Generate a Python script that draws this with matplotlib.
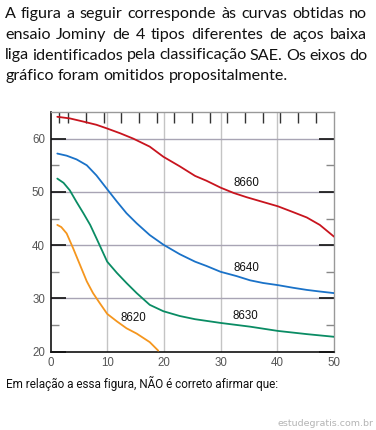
import matplotlib
matplotlib.use("Agg")
import matplotlib.pyplot as plt
import numpy as np

# ---- data ----
x_8660 = [1.2, 3.4, 5.8, 8.1, 10.0, 12.3, 14.6, 17.5, 19.9, 22.8, 25.5,
          27.5, 30.0, 32.3, 34.6, 37.5, 40.1, 42.8, 45.2, 47.5, 50.0]
y_8660 = [64.1, 63.8, 63.2, 62.6, 61.9, 61.0, 60.0, 58.5, 56.6, 54.8, 53.0,
          52.1, 50.8, 49.8, 49.0, 48.1, 47.3, 46.2, 45.2, 43.8, 41.6]

x_8640 = [1.2, 2.85, 4.6, 6.4, 8.1, 10.0, 11.7, 13.4, 15.2, 17.5, 19.9, 22.8, 25.5,
          27.5, 30.0, 32.8, 35.2, 37.5, 40.1, 42.8, 45.2, 47.5, 50.0]
y_8640 = [57.2, 56.8, 56.1, 55.0, 53.1, 50.5, 48.2, 46.0, 44.1, 41.9, 40.1, 38.3, 36.9,
          36.1, 35.0, 34.2, 33.4, 32.9, 32.5, 32.0, 31.6, 31.3, 31.0]

x_8630 = [1.2, 2.3, 3.4, 4.6, 5.8, 7.0, 8.1, 10.0, 11.7, 13.4, 15.2, 17.5, 19.9, 22.8, 25.5,
          30.0, 35.2, 40.1, 45.2, 50.0]
y_8630 = [52.5, 51.7, 50.3, 48.1, 46.0, 43.8, 41.3, 36.9, 34.8, 32.9, 31.0, 28.8, 27.6, 26.7, 26.1,
          25.4, 24.7, 23.9, 23.3, 22.8]

x_8620 = [1.2, 1.9, 2.85, 4.0, 5.2, 6.4, 7.5, 8.7, 10.0, 11.7, 13.4, 15.2, 17.5, 19.0]
y_8620 = [43.8, 43.4, 42.2, 39.4, 36.3, 33.2, 31.0, 29.1, 27.1, 25.7, 24.4, 23.4, 21.8, 20.2]

series_names = ["8660", "8640", "8630", "8620"]
label_x = [34.5, 34.6, 34.4, 14.7]
label_y = [51.7, 35.8, 26.75, 26.3]
series_colors = ["#c8141e", "#1a72c8", "#0a8c64", "#f5961e"]

x_ticks = [0, 10, 20, 30, 40, 50]
y_ticks = [20, 30, 40, 50, 60]
top_ticks = [1.56 * n for n in range(1, 31) if n % 2 == 0 or n == 1]

para_lines = [
    "A figura a seguir corresponde às curvas obtidas no",
    "ensaio Jominy de 4 tipos diferentes de aços baixa",
    "liga identificados pela classificação SAE. Os eixos do",
    "gráfico foram omitidos propositalmente.",
]
question = "Em relação a essa figura, NÃO é correto afirmar que:"
watermark = "estudegratis.com.br"

W, H = 376, 430
fig = plt.figure(figsize=(W / 100, H / 100), dpi=100)
fig.patch.set_facecolor("white")

ax = fig.add_axes([50.5 / W, 1 - 351.7 / H, (334 - 50.5) / W, (351.7 - 112) / H])
ax.set_xlim(0, 50)
ax.set_ylim(20, 65)

xs = [x_8660, x_8640, x_8630, x_8620]
ys = [y_8660, y_8640, y_8630, y_8620]
for xv, yv, c in zip(xs, ys, series_colors):
    ax.plot(xv, yv, color=c, lw=1.3, solid_capstyle="round", solid_joinstyle="round", zorder=3)
for n, lx, ly in zip(series_names, label_x, label_y):
    ax.text(lx, ly, n, ha="center", va="center", fontsize=8.3,
            family="Liberation Sans", color="#111111", zorder=4)

# grid
for gx in [10, 20, 30, 40]:
    ax.axvline(gx, color="#c4c4c4", lw=1.0, zorder=1)
for gy in [30, 40, 50, 60]:
    ax.axhline(gy, color="#a8a4b4", lw=1.0, zorder=1)

# ticks
ax.set_xticks(x_ticks)
ax.set_xticklabels([str(v) for v in x_ticks])
ax.set_yticks(y_ticks)
ax.set_yticklabels([str(v) for v in y_ticks])
ax.tick_params(axis="x", which="major", length=0, pad=4, labelsize=8.3, labelcolor="#555555")
ax.tick_params(axis="y", which="major", direction="in", length=11, width=1.2, color="#111111",
               right=True, pad=4, labelsize=8.3, labelcolor="#555555")
ax.set_yticks([25, 35, 45, 55], minor=True)
ax.tick_params(axis="y", which="minor", direction="in", length=6, width=1.0, color="#888888", right=True)
ax.set_xticks([30, 40], minor=True)
ax.tick_params(axis="x", which="minor", direction="in", length=11, width=1.2, color="#111111")
for lab in ax.get_xticklabels() + ax.get_yticklabels():
    lab.set_family("Liberation Sans")

# top ticks (secondary scale)
sec = ax.secondary_xaxis("top")
sec.set_xticks(top_ticks)
sec.set_xticklabels([])
sec.tick_params(direction="in", length=8, width=1.0, color="#333333")
sec.spines["top"].set_visible(False)

for s in ["left", "bottom"]:
    ax.spines[s].set_color("#111111")
    ax.spines[s].set_linewidth(1.2)
for s in ["top", "right"]:
    ax.spines[s].set_color("#999999")
    ax.spines[s].set_linewidth(1.0)

# ---- justified paragraph ----
fontprops = dict(family="Lato", fontsize=11.6, color="#111111")
fig.canvas.draw()
renderer = fig.canvas.get_renderer()
left_px, right_px = 5, 367
baselines = [18, 39, 59.5, 80]

def text_width(s, **kw):
    t = fig.text(0, 0, s, **kw)
    bb = t.get_window_extent(renderer)
    t.remove()
    return bb.width

space_w = text_width("a a", **fontprops) - 2 * text_width("a", **fontprops)
for i, (line, base) in enumerate(zip(para_lines, baselines)):
    words = line.split()
    widths = [text_width(w, **fontprops) for w in words]
    if i < len(para_lines) - 1:
        gap = (right_px - left_px - sum(widths)) / (len(words) - 1)
    else:
        gap = space_w
    xpos = left_px
    for w, wd in zip(words, widths):
        fig.text(xpos / W, 1 - base / H, w, va="baseline", ha="left", **fontprops)
        xpos += wd + gap

# question line: narrower text in the reference (~274 px wide)
qprops = dict(family=["Liberation Sans Narrow", "Roboto", "Lato"], fontsize=11.6, color="#111111")
qw = text_width(question, **qprops)
target_w = 274
if qw > target_w:
    qprops["fontsize"] = 11.6 * target_w / qw
fig.text(6 / W, 1 - 388 / H, question, va="baseline", ha="left", **qprops)
fig.text(373 / W, 1 - 426 / H, watermark, va="baseline", ha="right",
         family="DejaVu Sans", fontsize=6.8, color="#b4b4b4")

fig.savefig("out.png", dpi=100, facecolor="white")
